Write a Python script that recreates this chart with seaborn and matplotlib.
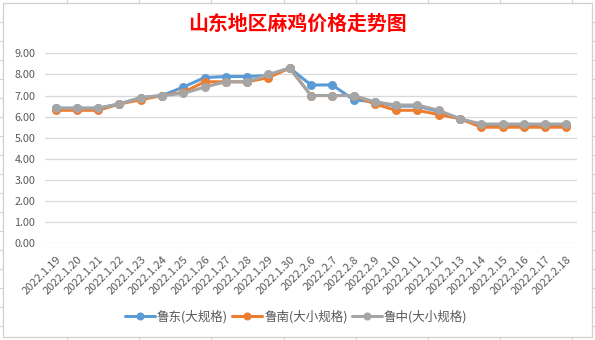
import matplotlib
matplotlib.use("Agg")
import matplotlib.pyplot as plt
import seaborn as sns
import pandas as pd
from matplotlib.patches import Rectangle
from matplotlib.lines import Line2D

dates = ["2022.1.19", "2022.1.20", "2022.1.21", "2022.1.22", "2022.1.23", "2022.1.24",
         "2022.1.25", "2022.1.26", "2022.1.27", "2022.1.28", "2022.1.29", "2022.1.30",
         "2022.2.6", "2022.2.7", "2022.2.8", "2022.2.9", "2022.2.10", "2022.2.11",
         "2022.2.12", "2022.2.13", "2022.2.14", "2022.2.15", "2022.2.16", "2022.2.17",
         "2022.2.18"]
ludong = [6.4, 6.4, 6.4, 6.6, 6.9, 7.0, 7.4, 7.85, 7.9, 7.9, 7.95, 8.3,
          7.5, 7.5, 6.8, 6.7, 6.5, 6.5, 6.25, 5.9, 5.6, 5.6, 5.6, 5.6, 5.6]
lunan = [6.3, 6.3, 6.3, 6.6, 6.8, 7.0, 7.15, 7.65, 7.65, 7.65, 7.85, 8.3,
         7.0, 7.0, 7.0, 6.6, 6.3, 6.3, 6.1, 5.9, 5.5, 5.5, 5.5, 5.5, 5.5]
luzhong = [6.4, 6.4, 6.4, 6.6, 6.9, 7.0, 7.1, 7.4, 7.65, 7.65, 8.0, 8.3,
           7.0, 7.0, 7.0, 6.7, 6.55, 6.55, 6.3, 5.9, 5.65, 5.65, 5.65, 5.65, 5.65]
series_names = ["鲁东(大规格)", "鲁南(大小规格)", "鲁中(大小规格)"]
colors = ["#5B9BD5", "#ED7D31", "#A5A5A5"]
title = "山东地区麻鸡价格走势图"
yticks = [0, 1, 2, 3, 4, 5, 6, 7, 8, 9]

df = pd.concat([
    pd.DataFrame({"date": dates, "price": vals, "series": name})
    for name, vals in zip(series_names, [ludong, lunan, luzhong])
], ignore_index=True)

sns.set_theme(style="white")
plt.rcParams["font.family"] = ["Noto Sans CJK SC", "DejaVu Sans"]

W, H = 595, 340
fig = plt.figure(figsize=(W / 100, H / 100), dpi=100)

# spreadsheet background
bg = fig.add_axes([0, 0, 1, 1], zorder=-5)
bg.set_xlim(0, W)
bg.set_ylim(H, 0)
bg.axis("off")
for x in [67, 139.2, 211.4, 283.6, 355.8, 428, 500, 572]:
    bg.axvline(x, color="#d4d4d4", lw=0.8)
y = 22.3
while y < H:
    bg.axhline(y, color="#d4d4d4", lw=0.8)
    y += 19
bg.add_patch(Rectangle((2.7, 2.7), 589.5, 334.5, facecolor="white",
                       edgecolor="#d0d0d0", lw=0.9, zorder=3))

ax = fig.add_axes([45 / W, (H - 243.3) / H, 532 / W, (243.3 - 53.3) / H], zorder=2)
ax.patch.set_alpha(0)

sns.pointplot(data=df, x="date", y="price", hue="series", palette=colors,
              order=dates, hue_order=series_names, markers="o", linestyles="-",
              errorbar=None, dodge=False, ax=ax, markersize=4.8, linewidth=2.2)

ax.set_ylim(0, 9)
ax.set_xlim(-0.5, len(dates) - 0.5)
ax.set_yticks(yticks)
ax.set_yticklabels([f"{v:.2f}" for v in yticks], color="#595959", fontsize=7.8)
ax.set_xticks(range(len(dates)))
ax.set_xticklabels(dates, rotation=45, ha="right", rotation_mode="anchor",
                   color="#595959", fontsize=8)
ax.tick_params(axis="y", length=0, pad=7)
ax.tick_params(axis="x", length=0, pad=8)
ax.set_xlabel("")
ax.set_ylabel("")
for s in ax.spines.values():
    s.set_visible(False)
ax.grid(axis="y", color="#d9d9d9", lw=0.9)
ax.set_axisbelow(True)

leg = ax.get_legend()
if leg is not None:
    leg.remove()
handles = [Line2D([0], [0], color=c, lw=2.2, marker="o", markersize=4.8) for c in colors]
fig.legend(handles, series_names, loc="center", bbox_to_anchor=(296 / W, 1 - 317 / H),
           ncol=3, frameon=False, fontsize=9, handlelength=2.4, handletextpad=0.2,
           columnspacing=0.3, labelcolor="#595959")

fig.text(297 / W, 1 - 23.5 / H, title, color="#FF0000", fontsize=14.3,
         ha="center", va="center", fontweight="bold")

fig.savefig("out.png", dpi=100)
